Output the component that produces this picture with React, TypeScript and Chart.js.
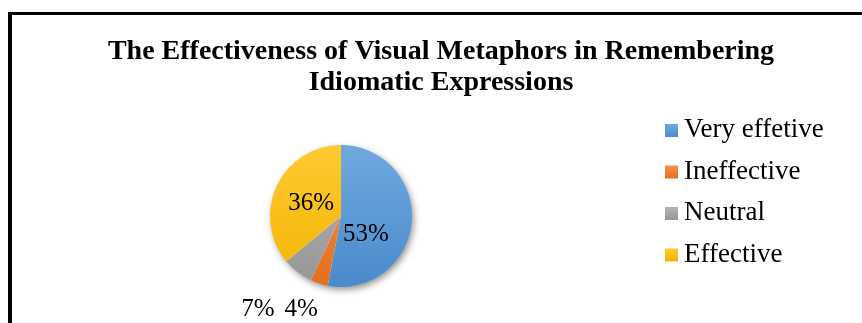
import React, { useEffect, useRef } from "react";
import { Chart, registerables } from "chart.js";

Chart.register(...registerables);

const titleLines = [
  "The Effectiveness of Visual Metaphors in Remembering",
  "Idiomatic Expressions",
];
const categories = ["Very effetive", "Ineffective", "Neutral", "Effective"];
const shares = [53, 4, 7, 36];
const baseColors = ["#5B9BD5", "#ED7D31", "#A5A5A5", "#FFC000"];
const lightColors = ["#6FA9DF", "#F48F4C", "#B4B4B4", "#FFC933"];
const darkColors = ["#4A8ACC", "#E26F1F", "#969696", "#F2B600"];

const SERIF = '"Liberation Serif", "Times New Roman", Times, serif';

// Label anchors relative to the pie centre (fraction of radius): centre x, baseline y
const labelAnchors = [
  { dx: 0.35, dy: 0.35 },
  { dx: -0.56, dy: 1.41 },
  { dx: -1.17, dy: 1.41 },
  { dx: -0.42, dy: -0.08 },
];

function verticalGradient(ctx: CanvasRenderingContext2D, top: number, bottom: number, a: string, b: string) {
  const g = ctx.createLinearGradient(0, top, 0, bottom);
  g.addColorStop(0, a);
  g.addColorStop(1, b);
  return g;
}

const decorPlugin = {
  id: "decor",
  beforeDraw(chart: any) {
    const { ctx, width, height } = chart;
    ctx.save();
    ctx.fillStyle = "#ffffff";
    ctx.fillRect(0, 0, width, height);
    // outer frame
    ctx.fillStyle = "#000000";
    ctx.fillRect(8, 12, 4, height - 12);
    ctx.fillRect(8, 12, width - 8, 3);
    // title
    ctx.font = `bold 28px ${SERIF}`;
    ctx.textAlign = "center";
    ctx.textBaseline = "alphabetic";
    ctx.fillText(titleLines[0], 441, 59);
    ctx.fillText(titleLines[1], 441, 90);
    ctx.restore();
  },
  beforeDatasetsDraw(chart: any) {
    const arc = chart.getDatasetMeta(0).data[0];
    if (!arc) return;
    const { ctx } = chart;
    const { x, y, outerRadius } = arc.getProps(["x", "y", "outerRadius"], true);
    // soft drop shadow under the pie
    ctx.save();
    ctx.shadowColor = "rgba(0,0,0,0.45)";
    ctx.shadowBlur = 7;
    ctx.shadowOffsetX = 2;
    ctx.shadowOffsetY = 3;
    ctx.fillStyle = "#ffffff";
    ctx.beginPath();
    ctx.arc(x, y, outerRadius - 0.5, 0, Math.PI * 2);
    ctx.fill();
    ctx.restore();
  },
  afterDatasetsDraw(chart: any) {
    const { ctx } = chart;
    const meta = chart.getDatasetMeta(0);
    const first = meta.data[0];
    if (!first) return;
    const { x, y, outerRadius } = first.getProps(["x", "y", "outerRadius"], true);
    const values = chart.data.datasets[0].data as number[];
    const total = values.reduce((s, v) => s + v, 0);
    ctx.save();
    ctx.font = `25px ${SERIF}`;
    ctx.fillStyle = "#000000";
    ctx.textAlign = "center";
    ctx.textBaseline = "alphabetic";
    values.forEach((v, i) => {
      const a = labelAnchors[i];
      const pct = Math.round((v / total) * 100);
      ctx.fillText(`${pct}%`, x + a.dx * outerRadius, y + a.dy * outerRadius);
    });

    // legend
    ctx.font = `27px ${SERIF}`;
    ctx.textAlign = "left";
    const labels = chart.data.labels as string[];
    labels.forEach((label, i) => {
      const base = 137 + i * 41.5;
      ctx.fillStyle = verticalGradient(ctx, base - 13, base, lightColors[i], darkColors[i]);
      ctx.fillRect(665, base - 13, 13, 13);
      ctx.fillStyle = "#000000";
      ctx.fillText(label, 684, base);
    });
    ctx.restore();
  },
};

export default function App() {
  const canvasRef = useRef<HTMLCanvasElement | null>(null);

  useEffect(() => {
    document.body.style.margin = "0";
    const canvas = canvasRef.current;
    if (!canvas) return;
    const chart = new Chart(canvas, {
      type: "pie",
      data: {
        labels: categories,
        datasets: [
          {
            data: shares,
            borderWidth: 0,
            backgroundColor: (c: any) => {
              const area = c.chart.chartArea;
              const i = c.dataIndex ?? 0;
              if (!area) return baseColors[i];
              return verticalGradient(c.chart.ctx, area.top, area.bottom, lightColors[i], darkColors[i]);
            },
          },
        ],
      },
      options: {
        animation: false,
        responsive: false,
        maintainAspectRatio: false,
        layout: { padding: { left: 270, right: 450, top: 145, bottom: 36 } },
        plugins: {
          legend: { display: false },
          title: { display: false },
          tooltip: { enabled: false },
        },
      },
      plugins: [decorPlugin],
    });
    return () => chart.destroy();
  }, []);

  return (
    <div style={{ width: 862, height: 323 }}>
      <canvas ref={canvasRef} width={862} height={323} style={{ display: "block" }} />
    </div>
  );
}
